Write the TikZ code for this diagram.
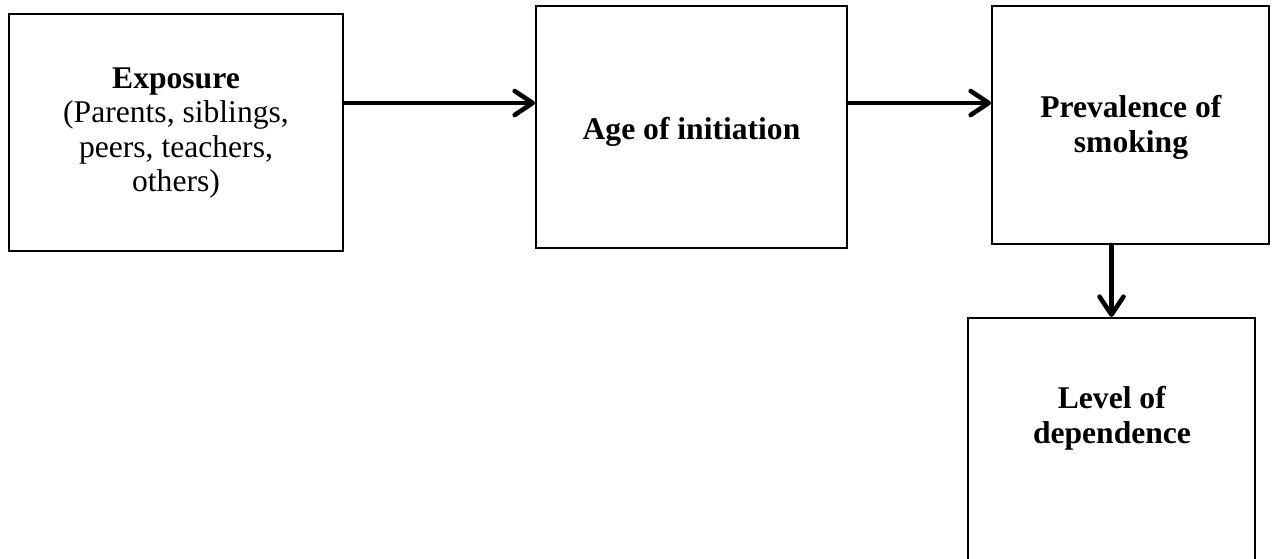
\documentclass[tikz,border=0pt]{standalone}
\usepackage{fontspec}
\setmainfont{Liberation Serif}
\usetikzlibrary{arrows.meta}

\begin{document}
\begin{tikzpicture}[x=0.5pt, y=-0.5pt,
    stage/.style={draw, line width=1pt, inner sep=0pt},
    stagetext/.style={anchor=north, inner sep=0pt, align=center, font=\fontsize{15.8}{17.3}\selectfont},
    flow/.style={-{Straight Barb[length=9pt, width=12pt, round]}, line width=2.3pt, line cap=round}]
    % Page frame (the last box runs off the bottom)
    \clip (0,0) rectangle (1275,558);

    % Draw the four boxes
    \node[stage, minimum width=167pt, minimum height=118.5pt] (expo) at (176,132.5) {};
    \node[stage, minimum width=155.5pt, minimum height=121pt] (age) at (691.5,127) {};
    \node[stage, minimum width=138.5pt, minimum height=119pt] (prev) at (1130.5,125) {};
    \node[stage, minimum width=143.5pt, minimum height=141pt] (dep) at (1111.5,459) {};

    % Texts of the boxes
    \node[stagetext] (expotext) at (176,67) {\textbf{Exposure}\\(Parents, siblings,\\peers, teachers,\\others)};
    \node[stagetext] (agetext) at (691.5,117) {\textbf{Age of initiation}};
    \node[stagetext] (prevtext) at (1131,95) {\textbf{Prevalence of}\\\textbf{smoking}};
    \node[stagetext] (deptext) at (1112,386) {\textbf{Level of}\\\textbf{dependence}};

    % Draw the arrows between the boxes
    \coordinate (row) at (0,103);
    \draw[flow] (expo.east |- row) -- (age.west |- row);
    \draw[flow] (age.east |- row) -- (prev.west |- row);
    \draw[flow] (prev.south -| dep.north) -- (dep.north);
\end{tikzpicture}
\end{document}
